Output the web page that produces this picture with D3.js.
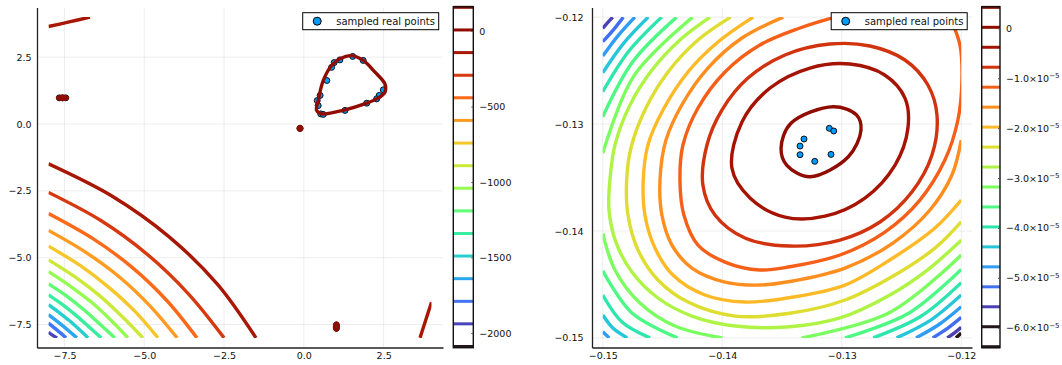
<!DOCTYPE html>
<html>
<head>
<meta charset="utf-8">
<script src="https://cdn.jsdelivr.net/npm/d3@7"></script>
<style>
  body { margin: 0; background: #fff; }
  text { font-family: "DejaVu Sans", sans-serif; }
</style>
</head>
<body>
<svg width="1062" height="365"></svg>
<script>
// ---- left panel data ----
var leftLevels = [-2089, -1939, -1790, -1640, -1490, -1341, -1191, -1041, -892, -742, -592, -442, -293, -143, 7, 157];
var leftClim = [-2089, 7];
var leftTicks = [-7.5, -5, -2.5, 0, 2.5];
var leftBarTicks = [0, -500, -1000, -1500, -2000];

// open contour pieces: [level index, points]
var leftArcs = [
  [13, [[-8, -1.49], [-5.99, -2.71], [-4.22, -4.22], [-2.71, -5.99], [-1.5, -8]]],
  [12, [[-8, -2.56], [-6.36, -3.61], [-4.89, -4.89], [-3.61, -6.36], [-2.5, -8]]],
  [11, [[-8, -3.35], [-6.62, -4.28], [-5.37, -5.37], [-4.28, -6.62], [-3.35, -8]]],
  [10, [[-8, -3.98], [-6.83, -4.80], [-5.75, -5.75], [-4.80, -6.83], [-3.97, -8]]],
  [9, [[-8, -4.57], [-7.01, -5.29], [-6.11, -6.11], [-5.29, -7.01], [-4.57, -8]]],
  [8, [[-8, -5.08], [-7.18, -5.71], [-6.41, -6.41], [-5.71, -7.18], [-5.04, -8]]],
  [7, [[-8, -5.52], [-7.32, -6.06], [-6.66, -6.66], [-6.06, -7.32], [-5.51, -8]]],
  [6, [[-8, -5.98], [-7.45, -6.42], [-6.92, -6.92], [-6.42, -7.45], [-5.92, -8]]],
  [5, [[-8, -6.39], [-7.57, -6.75], [-7.15, -7.15], [-6.75, -7.57], [-6.35, -8]]],
  [4, [[-8, -6.76], [-7.67, -7.05], [-7.35, -7.35], [-7.05, -7.67], [-6.76, -8]]],
  [3, [[-8, -7.13], [-7.55, -7.55], [-7.11, -8]]],
  [2, [[-8, -7.45], [-7.72, -7.72], [-7.45, -8]]],
  [1, [[-8, -7.79], [-7.89, -7.89], [-7.73, -8]]],
  [13, [[-8, 3.65], [-7.35, 3.82], [-6.7, 4.0]]],
  [13, [[3.64, -8], [3.82, -7.33], [4.0, -6.67]]]
];
// closed contour pieces
var leftRings = [
  [14, [[0.40, 0.51], [0.45, 0.88], [0.61, 1.63], [0.87, 2.19], [1.13, 2.44], [1.50, 2.56], [1.86, 2.38],
        [2.23, 1.94], [2.54, 1.50], [2.54, 1.19], [2.28, 0.94], [1.97, 0.78], [1.29, 0.53], [0.56, 0.38]]],
  [14, [[-0.18, -0.16], [-0.12, -0.09], [-0.06, -0.16], [-0.12, -0.23]]],
  [14, [[-7.72, 0.98], [-7.56, 1.04], [-7.40, 0.98], [-7.56, 0.92]]],
  [14, [[1.02, -7.44], [1.08, -7.58], [1.02, -7.72], [0.96, -7.58]]]
];
var leftPoints = [
  [0.53, 0.38], [0.45, 0.69], [0.42, 0.88], [0.51, 1.07], [0.72, 1.63], [0.87, 2.12], [0.95, 2.30],
  [1.13, 2.40], [1.53, 2.53], [1.86, 2.38], [2.49, 1.28], [2.36, 1.07], [2.28, 0.94], [1.97, 0.78],
  [1.29, 0.51], [0.61, 0.36], [-0.12, -0.16], [-7.66, 0.98], [-7.56, 0.98], [-7.46, 0.98],
  [1.02, -7.52], [1.02, -7.64]
];

// ---- right panel data ----
var rightLevels = [-6.38e-5, -5.98e-5, -5.58e-5, -5.18e-5, -4.78e-5, -4.38e-5, -3.98e-5, -3.58e-5, -3.18e-5,
                   -2.78e-5, -2.38e-5, -1.98e-5, -1.58e-5, -1.18e-5, -0.78e-5, -0.38e-5, 0.02e-5, 0.42e-5];
var rightClim = [-5.98e-5, 0.02e-5];
var rightTicks = [-0.15, -0.14, -0.13, -0.12];
var rightBarTicks = [0, -1e-5, -2e-5, -3e-5, -4e-5, -5e-5, -6e-5];

var rightArcs = [
  // upper-left corner
  [2, [[-0.15, -0.12105], [-0.14959, -0.12052], [-0.14917, -0.12]]],
  [3, [[-0.15, -0.12230], [-0.14911, -0.12119], [-0.14828, -0.12]]],
  [4, [[-0.15, -0.12364], [-0.14873, -0.12175], [-0.14731, -0.12]]],
  [5, [[-0.15, -0.12520], [-0.14826, -0.12245], [-0.14619, -0.12]]],
  [6, [[-0.15, -0.12698], [-0.14784, -0.12322], [-0.14507, -0.12]]],
  [7, [[-0.15, -0.12932], [-0.14749, -0.12417], [-0.14382, -0.12]]],
  [8, [[-0.15, -0.13274], [-0.14740, -0.12552], [-0.14248, -0.12]]],
  // lower-left corner
  [4, [[-0.15, -0.14943], [-0.14946, -0.15]]],
  [5, [[-0.15, -0.14786], [-0.14915, -0.14908], [-0.14795, -0.15]]],
  [6, [[-0.15, -0.14599], [-0.14839, -0.14852], [-0.14605, -0.15]]],
  [7, [[-0.15, -0.14372], [-0.14756, -0.14768], [-0.14373, -0.15]]],
  [8, [[-0.15, -0.14022], [-0.14898, -0.14365], [-0.14689, -0.14674], [-0.14396, -0.14889], [-0.14000, -0.15]]],
  // lower-right corner
  [1, [[-0.12044, -0.15], [-0.12, -0.14955]]],
  [2, [[-0.12117, -0.15], [-0.12057, -0.14953], [-0.12, -0.14901]]],
  [3, [[-0.12239, -0.15], [-0.12115, -0.14911], [-0.12, -0.14808]]],
  [4, [[-0.12379, -0.15], [-0.12180, -0.14870], [-0.12, -0.14709]]],
  [5, [[-0.12541, -0.15], [-0.12252, -0.14831], [-0.12, -0.14599]]],
  [6, [[-0.12737, -0.15], [-0.12337, -0.14798], [-0.12, -0.14484]]],
  [7, [[-0.12973, -0.15], [-0.12440, -0.14769], [-0.12, -0.14359]]],
  [8, [[-0.13336, -0.15], [-0.12598, -0.14762], [-0.12, -0.14225]]],
  // long arcs: top edge -> left side -> bottom -> right edge
  [9, [[-0.14103, -0.12], [-0.14354, -0.12214], [-0.14588, -0.12495], [-0.14772, -0.12822], [-0.14898, -0.13196],
       [-0.14940, -0.13524], [-0.14948, -0.13804], [-0.14890, -0.14104], [-0.14756, -0.14384], [-0.14538, -0.14627],
       [-0.14254, -0.14796], [-0.13894, -0.14889], [-0.13434, -0.14896], [-0.13015, -0.14814], [-0.12597, -0.14599],
       [-0.12262, -0.14347], [-0.12, -0.14085]]],
  [10, [[-0.13930, -0.12], [-0.14203, -0.12214], [-0.14454, -0.12513], [-0.14647, -0.12869], [-0.14764, -0.13224],
        [-0.14800, -0.13524], [-0.14789, -0.13851], [-0.14705, -0.14178], [-0.14538, -0.14459], [-0.14287, -0.14665],
        [-0.13894, -0.14796], [-0.13434, -0.14770], [-0.12973, -0.14646], [-0.12555, -0.14412], [-0.12220, -0.14160],
        [-0.12, -0.13914]]],
  [11, [[-0.13741, -0.12], [-0.14036, -0.12233], [-0.14287, -0.12513], [-0.14496, -0.12869], [-0.14622, -0.13196],
        [-0.14661, -0.13524], [-0.14647, -0.13851], [-0.14563, -0.14160], [-0.14413, -0.14412], [-0.14145, -0.14599],
        [-0.13810, -0.14665], [-0.13434, -0.14623], [-0.12973, -0.14506], [-0.12572, -0.14253], [-0.12220, -0.13973],
        [-0.12, -0.13711]]],
  [12, [[-0.13490, -0.12], [-0.13835, -0.12195], [-0.14120, -0.12476], [-0.14329, -0.12803], [-0.14471, -0.13150],
        [-0.14521, -0.13524], [-0.14505, -0.13851], [-0.14421, -0.14132], [-0.14254, -0.14347], [-0.13977, -0.14478],
        [-0.13685, -0.14506], [-0.13434, -0.14473], [-0.12973, -0.14347], [-0.12572, -0.14113], [-0.12262, -0.13804],
        [-0.12078, -0.13477], [-0.12, -0.13150]]],
  [13, [[-0.13057, -0.12], [-0.13350, -0.12102], [-0.13685, -0.12261], [-0.13977, -0.12513], [-0.14203, -0.12850],
        [-0.14329, -0.13196], [-0.14354, -0.13524], [-0.14321, -0.13851], [-0.14203, -0.14132], [-0.13977, -0.14291],
        [-0.13685, -0.14365], [-0.13434, -0.14335], [-0.13015, -0.14225], [-0.12639, -0.14010], [-0.12346, -0.13711],
        [-0.12137, -0.13337], [-0.12028, -0.12962], [-0.11994, -0.12588], [-0.12011, -0.12261], [-0.12095, -0.12]]]
];
var rightRings = [
  [16, [[-0.13508, -0.13227], [-0.13425, -0.12993], [-0.13071, -0.12838], [-0.12875, -0.12916],
        [-0.12839, -0.13056], [-0.12945, -0.13306], [-0.13266, -0.13493], [-0.13461, -0.13384]]],
  [15, [[-0.13919, -0.13412], [-0.13835, -0.12981], [-0.13600, -0.12663], [-0.13266, -0.12476],
        [-0.12931, -0.12439], [-0.12641, -0.12541], [-0.12471, -0.12757], [-0.12446, -0.13037],
        [-0.12554, -0.13384], [-0.12806, -0.13692], [-0.13140, -0.13861], [-0.13475, -0.13870],
        [-0.13768, -0.13692]]],
  [14, [[-0.14162, -0.13570], [-0.14128, -0.13196], [-0.14003, -0.12869], [-0.13785, -0.12570], [-0.13475, -0.12354],
        [-0.13099, -0.12252], [-0.12764, -0.12270], [-0.12471, -0.12401], [-0.12279, -0.12635], [-0.12203, -0.12916],
        [-0.12245, -0.13290], [-0.12413, -0.13636], [-0.12680, -0.13916], [-0.13015, -0.14085], [-0.13434, -0.14141],
        [-0.13810, -0.14066], [-0.14061, -0.13851]]]
];
var rightPoints = [
  [-0.13104, -0.13040], [-0.13067, -0.13065], [-0.13316, -0.13140], [-0.13349, -0.13206],
  [-0.13349, -0.13287], [-0.13226, -0.13349], [-0.13090, -0.13284]
];

var svg = d3.select("svg");

function fmtDec(n) {
  return function(d) { return (d < 0 ? "\u2212" : "") + Math.abs(d).toFixed(n); };
}

function panel(o) {
  var g = svg.append("g");
  var x = d3.scaleLinear().domain(o.xd).range([o.l, o.r]);
  var y = d3.scaleLinear().domain(o.yd).range([o.b, o.t]);
  var cs = d3.scaleLinear().domain(o.clim).range([0, 1]).clamp(true);
  var color = function(i) { return d3.interpolateTurbo(cs(o.levels[i])); };

  // grid
  g.selectAll(".gx").data(o.ticks).enter().append("line")
    .attr("x1", function(d) { return x(d); }).attr("x2", function(d) { return x(d); })
    .attr("y1", o.t).attr("y2", o.b)
    .attr("stroke", "#000").attr("stroke-opacity", 0.1).attr("stroke-width", 0.7);
  g.selectAll(".gy").data(o.ticks).enter().append("line")
    .attr("y1", function(d) { return y(d); }).attr("y2", function(d) { return y(d); })
    .attr("x1", o.l).attr("x2", o.r)
    .attr("stroke", "#000").attr("stroke-opacity", 0.1).attr("stroke-width", 0.7);

  var clipId = "clip" + o.id;
  svg.append("clipPath").attr("id", clipId).append("rect")
    .attr("x", x(o.box[0])).attr("y", y(o.box[1]))
    .attr("width", x(o.box[1]) - x(o.box[0])).attr("height", y(o.box[0]) - y(o.box[1]));
  var pg = g.append("g").attr("clip-path", "url(#" + clipId + ")");
  var sg = g.append("g");

  var open = d3.line().x(function(d) { return x(d[0]); }).y(function(d) { return y(d[1]); })
    .curve(d3.curveCatmullRom);
  var closed = d3.line().x(function(d) { return x(d[0]); }).y(function(d) { return y(d[1]); })
    .curve(d3.curveCatmullRomClosed);

  // scatter under the contour lines
  sg.selectAll(".pt").data(o.points).enter().append("circle")
    .attr("cx", function(d) { return x(d[0]); }).attr("cy", function(d) { return y(d[1]); })
    .attr("r", 3).attr("fill", "#009af9").attr("stroke", "#000").attr("stroke-width", 0.9);
  sg.lower();
  g.selectAll("line").lower();

  pg.selectAll(".arc").data(o.arcs).enter().append("path")
    .attr("d", function(d) { return open(d[1]); })
    .attr("fill", "none").attr("stroke", function(d) { return color(d[0]); })
    .attr("stroke-width", 3.4);
  pg.selectAll(".ring").data(o.rings).enter().append("path")
    .attr("d", function(d) { return closed(d[1]); })
    .attr("fill", "none").attr("stroke", function(d) { return color(d[0]); })
    .attr("stroke-width", 3.4);

  // axes
  var ax = g.append("g").attr("transform", "translate(0," + o.b + ")")
    .call(d3.axisBottom(x).tickValues(o.ticks).tickFormat(o.fmt).tickSize(0).tickPadding(5));
  var ay = g.append("g").attr("transform", "translate(" + o.l + ",0)")
    .call(d3.axisLeft(y).tickValues(o.ticks).tickFormat(o.fmt).tickSize(0).tickPadding(o.ypad));
  [ax, ay].forEach(function(a) {
    a.select(".domain").attr("stroke", "#222").attr("stroke-width", 1.3);
    a.selectAll("text").attr("font-size", "9.5px").attr("fill", "#111")
      .attr("font-family", "DejaVu Sans, sans-serif");
  });

  // legend
  var lg = g.append("g").attr("transform", "translate(" + o.leg[0] + "," + o.leg[1] + ")");
  lg.append("rect").attr("width", 136).attr("height", 17)
    .attr("fill", "#fff").attr("stroke", "#000").attr("stroke-width", 1);
  lg.append("circle").attr("cx", 14.5).attr("cy", 8.5).attr("r", 4)
    .attr("fill", "#009af9").attr("stroke", "#000").attr("stroke-width", 1);
  lg.append("text").attr("x", 33.5).attr("y", 12.3).attr("font-size", "10px").attr("fill", "#111")
    .text("sampled real points");

  // colorbar
  var b = o.bar;
  var cy = d3.scaleLinear().domain(b.domain).range([b.b, b.t]);
  var cb = svg.append("g");
  cb.selectAll(".lev").data(o.levels).enter().append("line")
    .attr("x1", b.l).attr("x2", b.r)
    .attr("y1", function(d) { return cy(d); }).attr("y2", function(d) { return cy(d); })
    .attr("stroke", function(d, i) { return color(i); }).attr("stroke-width", 3);
  cb.append("rect").attr("x", b.l).attr("y", b.t).attr("width", b.r - b.l).attr("height", b.b - b.t)
    .attr("fill", "none").attr("stroke", "#111").attr("stroke-width", 1.4);
  var ca = cb.append("g").attr("transform", "translate(" + b.r + ",0)")
    .call(d3.axisRight(cy).tickValues(b.ticks).tickSizeInner(-2).tickSizeOuter(0).tickPadding(6));
  ca.select(".domain").remove();
  ca.selectAll(".tick line").attr("stroke", "#555");
  ca.selectAll("text").attr("font-size", "9.5px").attr("fill", "#111")
    .attr("font-family", "DejaVu Sans, sans-serif")
    .each(function(d) { b.label(d3.select(this), d); });
}

panel({
  id: 1, l: 37, r: 443, t: 7.5, b: 347.5,
  xd: [-8.36, 4.36], yd: [-8.36, 4.36], box: [-8, 4],
  ticks: leftTicks, fmt: fmtDec(1), ypad: 5.5,
  levels: leftLevels, clim: leftClim, arcs: leftArcs, rings: leftRings, points: leftPoints,
  leg: [302.7, 12.7],
  bar: { l: 453.3, r: 473.3, t: 6.7, b: 347.7, domain: [-2097, 161], ticks: leftBarTicks,
         label: function(t, d) { t.text(d < 0 ? "\u2212" + (-d) : "" + d); } }
});

panel({
  id: 2, l: 592, r: 972, t: 7.5, b: 347.5,
  xd: [-0.1509, -0.1191], yd: [-0.1509, -0.1191], box: [-0.15, -0.12],
  ticks: rightTicks, fmt: fmtDec(2), ypad: 8.5,
  levels: rightLevels, clim: rightClim, arcs: rightArcs, rings: rightRings, points: rightPoints,
  leg: [831.2, 12.7],
  bar: { l: 981.7, r: 1000, t: 6.7, b: 347.7, domain: [-6.40e-5, 0.433e-5], ticks: rightBarTicks,
         label: function(t, d) {
           t.text(null);
           if (d === 0) { t.text("0"); return; }
           t.append("tspan").text("\u2212" + (-d / 1e-5).toFixed(1) + "\u00d710");
           t.append("tspan").attr("dy", "-0.5em").attr("font-size", "7px").text("\u22125");
         } }
});
</script>
</body>
</html>
